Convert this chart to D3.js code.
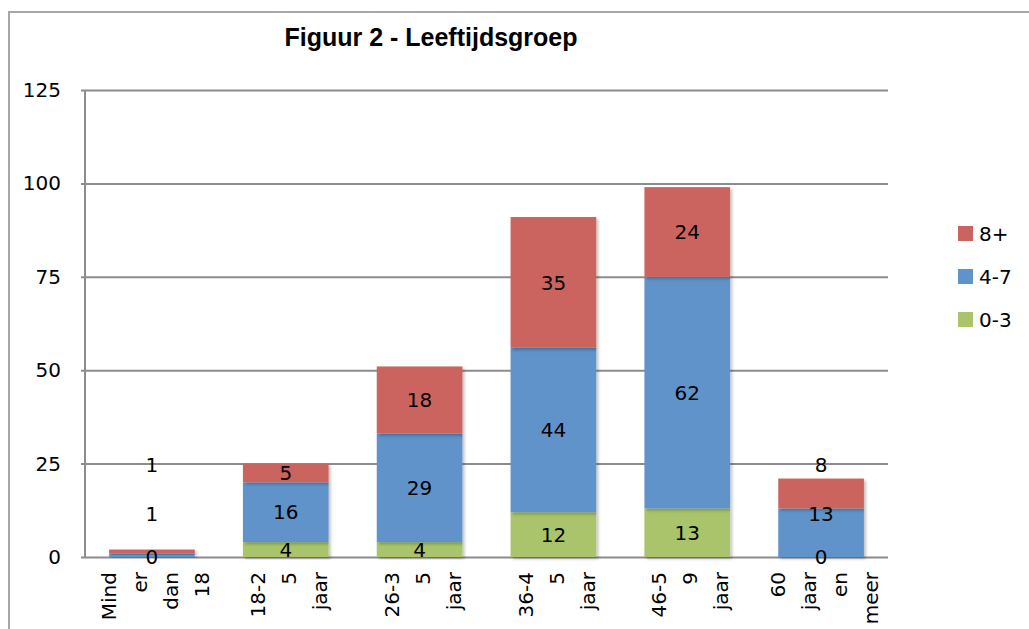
<!DOCTYPE html>
<html>
<head>
<meta charset="utf-8">
<script src="https://cdn.jsdelivr.net/npm/d3@7"></script>
<style>
  body { margin: 0; background: #fff; }
  svg { display: block; font-family: "DejaVu Sans", "Liberation Sans", sans-serif; }
</style>
</head>
<body>
<svg id="chart" width="1029" height="629"></svg>
<script>
// data
const categories = [
  ["Mind", "er", "dan", "18"],
  ["18-2", "5", "jaar"],
  ["26-3", "5", "jaar"],
  ["36-4", "5", "jaar"],
  ["46-5", "9", "jaar"],
  ["60", "jaar", "en", "meer"]
];
const seriesNames = ["0-3", "4-7", "8+"];
const values03 = [0, 4, 4, 12, 13, 0];
const values47 = [1, 16, 29, 44, 62, 13];
const values8p = [1, 5, 18, 35, 24, 8];
// where Excel pushed the labels of tiny segments (data units, null = centre)
const labelAt03 = [0, null, null, null, null, 0];
const labelAt47 = [11.5, null, null, null, null, 11.5];
const labelAt8p = [24.6, null, null, null, null, 24.6];
const yTicks = [0, 25, 50, 75, 100, 125];
const colors = { "0-3": "#a9c46b", "4-7": "#5f93c9", "8+": "#cb645f" };

function draw() {
  const svg = d3.select("#chart");
  const margin = { left: 85, top: 90, right: 141, bottom: 72 };
  const width = 1029 - margin.left - margin.right;
  const height = 629 - margin.top - margin.bottom;

  // outer chart frame
  svg.append("rect")
    .attr("x", 9).attr("y", 12)
    .attr("width", 1040).attr("height", 640)
    .attr("fill", "none")
    .attr("stroke", "#a6a6a6")
    .attr("stroke-width", 2);

  const defs = svg.append("defs");
  defs.append("filter").attr("id", "shadow")
    .attr("x", "-10%").attr("y", "-10%").attr("width", "130%").attr("height", "130%")
    .append("feDropShadow")
    .attr("dx", 2).attr("dy", 2).attr("stdDeviation", 1.5)
    .attr("flood-color", "#000").attr("flood-opacity", 0.25);

  svg.append("text")
    .attr("x", 431).attr("y", 46)
    .attr("text-anchor", "middle")
    .style("font-family", "'Liberation Sans Narrow', 'Liberation Sans', sans-serif")
    .style("font-weight", "bold")
    .style("font-size", "25px")
    .text("Figuur 2 - Leeftijdsgroep");

  const g = svg.append("g").attr("transform", "translate(" + margin.left + "," + margin.top + ")");

  const x = d3.scaleBand().domain(d3.range(categories.length)).range([0, width]).paddingInner(0.36).paddingOuter(0.18);
  const y = d3.scaleLinear().domain([0, 125]).range([height, 0]);

  // gridlines + y axis
  const yAxis = d3.axisLeft(y).tickValues(yTicks).tickSize(-width).tickPadding(24);
  const ya = g.append("g").call(yAxis);
  ya.select(".domain").remove();
  ya.selectAll(".tick line")
    .attr("x1", -4)
    .attr("stroke", "#8c8c8c")
    .attr("stroke-width", 2);
  ya.selectAll(".tick text")
    .style("font-family", "'DejaVu Sans', sans-serif")
    .style("font-size", "20px")
    .attr("fill", "#000");
  g.append("line")
    .attr("x1", 0).attr("x2", 0)
    .attr("y1", 0).attr("y2", height)
    .attr("stroke", "#8c8c8c").attr("stroke-width", 2);

  const rows = categories.map((c, i) => ({
    i: i, "0-3": values03[i], "4-7": values47[i], "8+": values8p[i]
  }));
  const stack = d3.stack().keys(seriesNames)(rows);
  const labelAt = { "0-3": labelAt03, "4-7": labelAt47, "8+": labelAt8p };

  const layers = g.append("g").selectAll("g").data(stack).join("g")
    .attr("fill", d => colors[d.key]);
  layers.selectAll("rect").data(d => d).join("rect")
    .attr("x", d => x(d.data.i))
    .attr("y", d => y(d[1]))
    .attr("width", x.bandwidth())
    .attr("height", d => y(d[0]) - y(d[1]))
    .attr("filter", "url(#shadow)");

  // data labels
  const lab = g.append("g");
  stack.forEach(layer => {
    layer.forEach((d, i) => {
      const at = labelAt[layer.key][i];
      const v = at === null ? (d[0] + d[1]) / 2 : at;
      lab.append("text")
        .attr("x", x(i) + x.bandwidth() / 2)
        .attr("y", y(v))
        .attr("text-anchor", "middle")
        .attr("dy", "0.36em")
        .style("font-size", "20px")
        .text(d.data[layer.key]);
    });
  });

  // category labels, each word on its own rotated column
  categories.forEach((lines, i) => {
    const cx = x(i) + x.bandwidth() / 2 + 3;
    lines.forEach((t, j) => {
      const lx = cx + (j - (lines.length - 1) / 2) * 31;
      g.append("text")
        .attr("transform", "translate(" + lx + "," + (height + 15) + ") rotate(-90)")
        .attr("text-anchor", "end")
        .attr("dy", "0.36em")
        .style("font-size", "20px")
        .text(t);
    });
  });

  // legend
  const legend = svg.append("g").attr("transform", "translate(958,226)");
  seriesNames.slice().reverse().forEach((s, i) => {
    const row = legend.append("g").attr("transform", "translate(0," + i * 43 + ")");
    row.append("rect").attr("width", 15).attr("height", 15).attr("fill", colors[s]);
    row.append("text").attr("x", 21).attr("y", 8).attr("dy", "0.36em")
      .style("font-size", "20px").text(s);
  });
}

draw();
</script>
</body>
</html>
